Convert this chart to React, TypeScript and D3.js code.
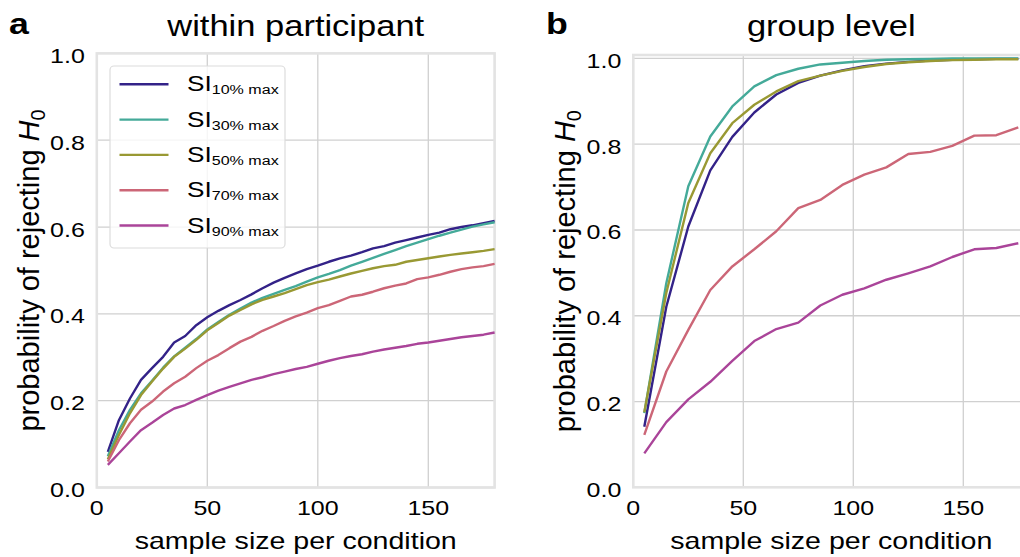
import React from "react";
import * as d3 from "d3";

// ---------- data ----------
const seriesLabels = ["10% max", "30% max", "50% max", "70% max", "90% max"];
const seriesColors = ["#332288", "#44AA99", "#999933", "#CC6677", "#AA4499"];

const sizesA = [5, 10, 15, 20, 25, 30, 35, 40, 45, 50, 55, 60, 65, 70, 75, 80, 85, 90, 95, 100, 105, 110, 115, 120, 125, 130, 135, 140, 145, 150, 155, 160, 165, 170, 175, 180];
const si10A = [0.082, 0.155, 0.205, 0.248, 0.275, 0.301, 0.334, 0.349, 0.374, 0.392, 0.407, 0.42, 0.432, 0.445, 0.459, 0.472, 0.483, 0.493, 0.503, 0.511, 0.52, 0.528, 0.534, 0.542, 0.551, 0.556, 0.564, 0.57, 0.576, 0.582, 0.587, 0.595, 0.6, 0.604, 0.609, 0.614];
const si30A = [0.072, 0.132, 0.179, 0.217, 0.246, 0.276, 0.302, 0.322, 0.342, 0.364, 0.381, 0.398, 0.412, 0.426, 0.437, 0.446, 0.455, 0.464, 0.474, 0.484, 0.492, 0.501, 0.511, 0.52, 0.529, 0.538, 0.547, 0.556, 0.564, 0.572, 0.58, 0.587, 0.594, 0.601, 0.606, 0.611];
const si50A = [0.065, 0.121, 0.171, 0.213, 0.244, 0.274, 0.301, 0.32, 0.34, 0.362, 0.379, 0.396, 0.409, 0.422, 0.432, 0.44, 0.448, 0.457, 0.466, 0.473, 0.479, 0.486, 0.493, 0.499, 0.505, 0.51, 0.513, 0.52, 0.524, 0.528, 0.532, 0.536, 0.539, 0.542, 0.545, 0.549];
const si70A = [0.06, 0.109, 0.148, 0.179, 0.198, 0.221, 0.24, 0.255, 0.275, 0.292, 0.305, 0.321, 0.336, 0.347, 0.361, 0.372, 0.384, 0.394, 0.403, 0.413, 0.42, 0.43, 0.44, 0.444, 0.451, 0.459, 0.465, 0.47, 0.48, 0.484, 0.49, 0.497, 0.503, 0.507, 0.51, 0.515];
const si90A = [0.052, 0.079, 0.106, 0.132, 0.149, 0.167, 0.182, 0.19, 0.202, 0.213, 0.223, 0.232, 0.24, 0.248, 0.254, 0.261, 0.267, 0.273, 0.278, 0.285, 0.292, 0.298, 0.303, 0.307, 0.313, 0.318, 0.322, 0.326, 0.331, 0.334, 0.338, 0.342, 0.346, 0.349, 0.352, 0.357];

const sizesB = [5, 15, 25, 35, 45, 55, 65, 75, 85, 95, 105, 115, 125, 135, 145, 155, 165, 175];
const si10B = [0.141, 0.421, 0.608, 0.739, 0.817, 0.874, 0.916, 0.943, 0.96, 0.972, 0.982, 0.988, 0.992, 0.995, 0.997, 0.998, 0.999, 0.999];
const si30B = [0.173, 0.476, 0.702, 0.818, 0.888, 0.935, 0.961, 0.976, 0.986, 0.99, 0.994, 0.997, 0.998, 0.999, 1.0, 1.0, 1.0, 1.0];
const si50B = [0.175, 0.453, 0.663, 0.779, 0.849, 0.892, 0.923, 0.947, 0.96, 0.971, 0.98, 0.987, 0.991, 0.994, 0.996, 0.997, 0.998, 0.998];
const si70B = [0.122, 0.27, 0.367, 0.46, 0.515, 0.555, 0.597, 0.651, 0.67, 0.705, 0.729, 0.746, 0.777, 0.782, 0.796, 0.82, 0.821, 0.839];
const si90B = [0.079, 0.152, 0.205, 0.246, 0.295, 0.341, 0.369, 0.384, 0.424, 0.449, 0.464, 0.484, 0.499, 0.515, 0.537, 0.555, 0.558, 0.569];

const xTicks = [0, 50, 100, 150];
const yTicks = [0, 0.2, 0.4, 0.6, 0.8, 1.0];

// ---------- layout ----------
const W = 1020;
const H = 557;
const SX = 1.19; // horizontal glyph stretch of the reference
const FONT = "'Liberation Sans', Arial, Helvetica, sans-serif";
const GRID = "#d0d0d0";
const SPINE = "#e3e3e3";

type PanelProps = {
  sizes: number[];
  series: number[][];
  xRange: [number, number];
  yRange: [number, number];
  yMax: number;
  title: string;
  letter: string;
  letterX: number;
  legend: boolean;
};

function HText(props: {
  x: number; y: number; size: number; anchor?: string; weight?: string; children: React.ReactNode;
}) {
  return (
    <text
      transform={`translate(${props.x},${props.y}) scale(${SX},1)`}
      fontSize={props.size}
      fontFamily={FONT}
      fontWeight={props.weight || "normal"}
      textAnchor={props.anchor || "start"}
      fill="#000"
    >
      {props.children}
    </text>
  );
}

function Panel(p: PanelProps) {
  const x = d3.scaleLinear().domain([0, 180]).range(p.xRange);
  const y = d3.scaleLinear().domain([0, p.yMax]).range(p.yRange);
  const line = d3
    .line<[number, number]>()
    .x((d) => x(d[0]))
    .y((d) => y(d[1]));
  const [x0, x1] = p.xRange;
  const yb = p.yRange[0];
  const yt = p.yRange[1];
  const cx = (x0 + x1) / 2;
  const cy = (yb + yt) / 2;
  return (
    <g>
      {/* grid */}
      {xTicks.map((t) => (
        <line key={"gx" + t} x1={x(t)} x2={x(t)} y1={yt} y2={yb} stroke={GRID} strokeWidth={1.3} />
      ))}
      {yTicks.map((t) => (
        <line key={"gy" + t} x1={x0} x2={x1} y1={y(t)} y2={y(t)} stroke={GRID} strokeWidth={1.3} />
      ))}
      {/* spines */}
      <rect x={x0} y={yt} width={x1 - x0} height={yb - yt} fill="none" stroke={SPINE} strokeWidth={2.6} />
      {/* lines */}
      {p.series.map((vals, i) => (
        <path
          key={"s" + i}
          d={line(p.sizes.map((s, j) => [s, vals[j]] as [number, number])) || ""}
          fill="none"
          stroke={seriesColors[i]}
          strokeWidth={2.4}
          strokeLinejoin="round"
        />
      ))}
      {/* tick labels */}
      {xTicks.map((t) => (
        <HText key={"tx" + t} x={x(t)} y={515} size={21} anchor="middle">
          {String(t)}
        </HText>
      ))}
      {yTicks.map((t) => (
        <HText key={"ty" + t} x={x0 - 12} y={y(t) + 9.5} size={21} anchor="end">
          {t.toFixed(1)}
        </HText>
      ))}
      {/* axis labels */}
      <HText x={cx} y={549} size={24} anchor="middle">
        sample size per condition
      </HText>
      <text
        transform={`translate(${x0 - 58},${cy}) rotate(-90)`}
        fontSize={29}
        fontFamily={FONT}
        textAnchor="middle"
        fill="#000"
      >
        probability of rejecting <tspan fontStyle="italic">H</tspan>
        <tspan fontSize={20} dy={6}>0</tspan>
      </text>
      {/* title */}
      <HText x={cx} y={36} size={29} anchor="middle">
        {p.title}
      </HText>
      <HText x={p.letterX} y={34} size={30} weight="bold">
        {p.letter}
      </HText>
      {p.legend && (
        <g>
          <rect x={110} y={66} width={175} height={182} rx={4} fill="#fff" fillOpacity={0.8} stroke="#dcdcdc" strokeWidth={1.2} />
          {seriesLabels.map((lab, i) => {
            const ry = 84.3 + i * 35.3;
            return (
              <g key={"lg" + i}>
                <line x1={119.5} x2={168.5} y1={ry} y2={ry} stroke={seriesColors[i]} strokeWidth={2.4} />
                <text
                  transform={`translate(187,${ry + 7}) scale(${SX},1)`}
                  fontFamily={FONT}
                  fontSize={22}
                  fill="#000"
                >
                  SI
                  <tspan fontSize={13.5} dy={3}>{lab}</tspan>
                </text>
              </g>
            );
          })}
        </g>
      )}
    </g>
  );
}

export default function App() {
  return (
    <svg
      width={W}
      height={H}
      style={{ position: "absolute", left: 0, top: 0, background: "#fff" }}
    >
      <rect x={0} y={0} width={W} height={H} fill="#fff" />
      <Panel
        sizes={sizesA}
        series={[si10A, si30A, si50A, si70A, si90A]}
        xRange={[96.8, 494.6]}
        yRange={[487.5, 53.4]}
        yMax={1.0}
        title="within participant"
        letter="a"
        letterX={9}
        legend={true}
      />
      <Panel
        sizes={sizesB}
        series={[si10B, si30B, si50B, si70B, si90B]}
        xRange={[633.3, 1029.3]}
        yRange={[487.3, 55]}
        yMax={1.008}
        title="group level"
        letter="b"
        letterX={546}
        legend={false}
      />
    </svg>
  );
}
